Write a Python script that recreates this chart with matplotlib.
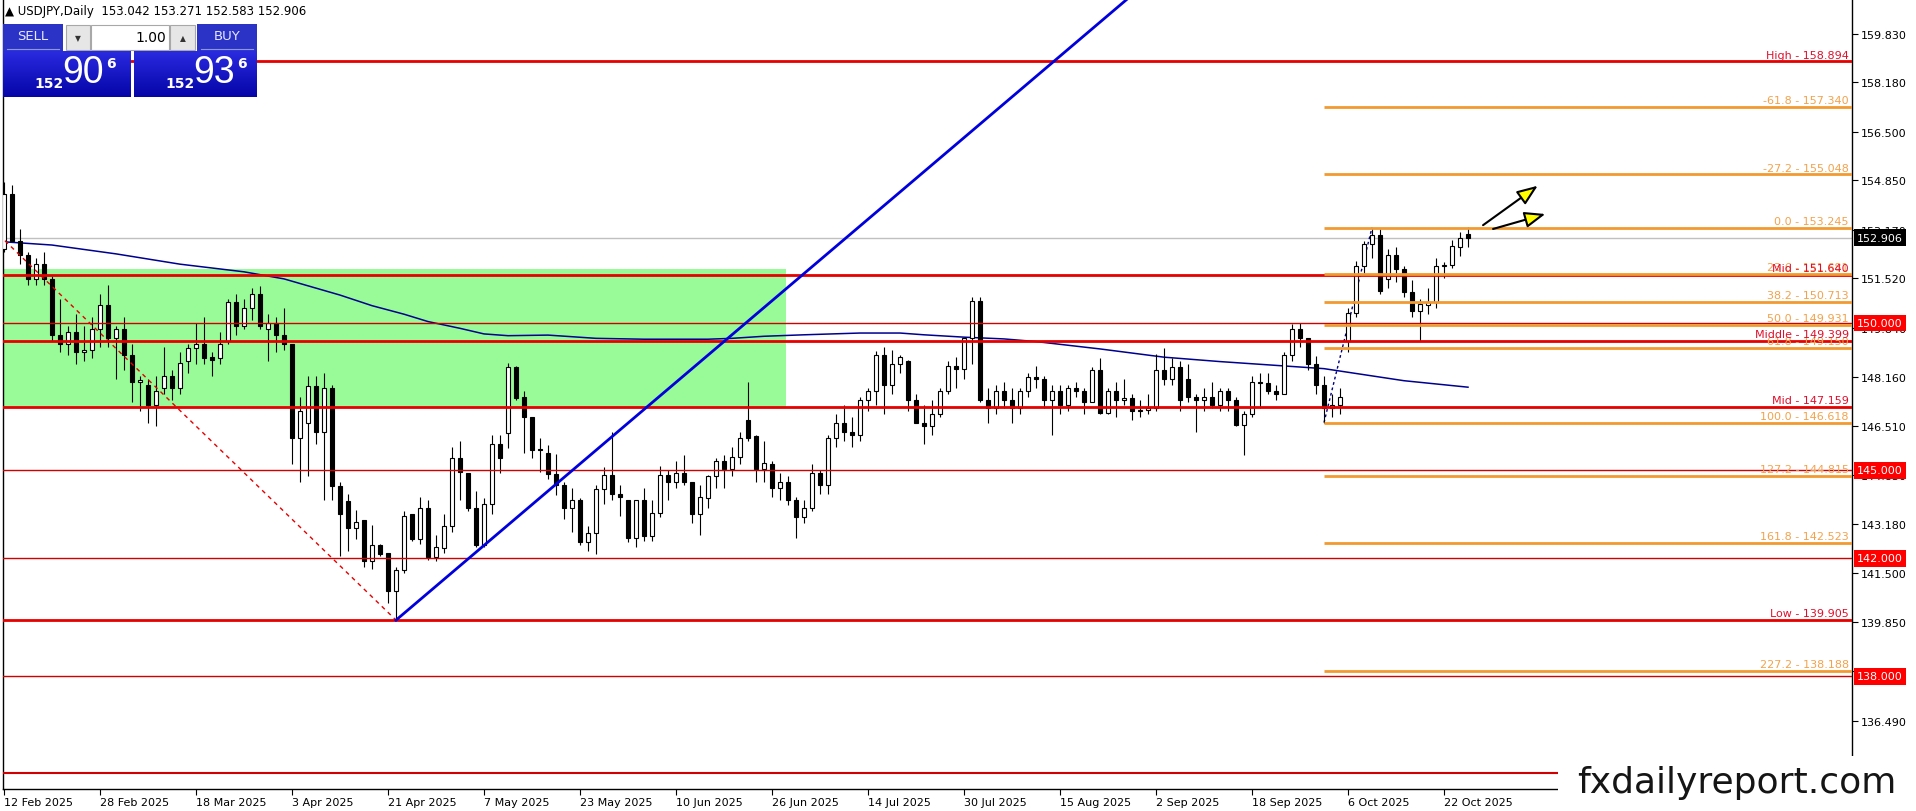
import numpy as np
import matplotlib.pyplot as plt
from matplotlib.patches import Rectangle, FancyArrowPatch
from matplotlib.colors import LinearSegmentedColormap

plt.rcParams['font.family'] = ['DejaVu Sans']

# ---------------------------------------------------------------
# USDJPY daily candles (12 Feb 2025 -> 27 Oct 2025)
# ---------------------------------------------------------------
date_labels = ['12 Feb 2025', '28 Feb 2025', '18 Mar 2025', '3 Apr 2025', '21 Apr 2025',
               '7 May 2025', '23 May 2025', '10 Jun 2025', '26 Jun 2025', '14 Jul 2025',
               '30 Jul 2025', '15 Aug 2025', '2 Sep 2025', '18 Sep 2025', '6 Oct 2025',
               '22 Oct 2025']

opens = [
    152.5, 154.4, 152.8, 152.3, 151.5, 152.0, 151.5, 149.6, 149.3, 149.7, 149.0, 149.1, 149.8,
    150.6, 149.5, 149.8, 148.9, 147.98, 147.9, 147.2, 147.8, 148.2, 147.8, 148.7, 149.15, 149.3,
    148.86, 148.8, 149.4, 150.7, 149.9, 150.5, 151.0, 149.8,
    150.0, 149.6, 149.3, 146.1, 146.6, 147.85, 146.3, 147.8, 144.45, 143.95, 143.05, 143.3,
    141.9, 142.45, 142.2, 140.9, 141.6, 143.5, 142.65, 143.7, 142.05, 142.35,
    143.1, 145.4, 144.9, 143.7, 142.45, 143.85, 145.9, 146.25, 148.5, 147.5, 146.8, 145.72,
    145.6, 144.87, 144.5, 143.7, 144.0, 142.57, 142.87, 144.35, 144.85, 144.2,
    144.0, 142.7, 144.0, 142.78, 143.55, 144.85, 144.6, 144.9, 144.6, 143.5, 144.05, 144.8,
    145.3, 145.05, 145.45, 146.7, 146.15, 145.05, 145.2, 144.4, 144.6,
    144.0, 143.4, 143.7, 144.9, 144.5, 146.1, 146.6, 146.3, 146.2, 147.4, 147.7, 148.9,
    147.9, 148.6, 148.7, 147.4, 146.6, 146.5, 146.9, 147.7, 148.55, 148.45, 149.5,
    150.75, 147.4, 147.1, 147.7, 147.4, 147.1, 147.7, 148.15, 148.1, 147.4, 147.7, 147.2,
    147.8, 147.7, 147.3, 148.4, 146.95, 147.7, 147.4, 147.45, 147.0,
    147.05, 147.1, 148.4, 148.1, 148.5, 148.1, 147.5, 147.4, 147.5, 147.2, 147.7, 147.4,
    146.55, 146.9, 148.0, 147.95, 147.7, 147.6, 148.9, 149.8, 149.5, 148.6,
    147.9, 147.1, 147.2, 149.4, 150.35, 151.95, 152.7, 153.0, 151.5, 152.3, 151.85, 151.05,
    150.42, 150.6, 150.7, 151.93, 151.96, 152.6, 153.042,
]
highs = [
    154.8, 154.7, 153.2, 152.4, 152.2, 152.4, 151.6, 150.8, 149.9, 150.3, 149.9, 150.2, 151.0,
    151.3, 149.9, 150.2, 149.3, 148.2, 148.1, 148.2, 149.2, 148.4, 149.0, 149.3, 150.0, 150.2,
    149.0, 149.7, 150.8, 151.0, 150.8, 151.2, 151.25, 150.3,
    150.2, 150.5, 149.3, 147.5, 148.2, 148.2, 148.3, 147.9, 144.6, 144.2, 143.65, 143.3,
    143.15, 142.5, 142.2, 141.7, 143.6, 143.5, 144.1, 144.0, 142.8, 143.5,
    145.8, 146.0, 144.9, 144.3, 144.05, 146.2, 146.2, 148.65, 148.55, 147.7, 146.8, 146.1,
    145.85, 145.55, 144.6, 144.4, 144.05, 143.1, 144.5, 145.1, 146.3, 144.5,
    144.0, 144.0, 144.4, 144.0, 145.15, 145.0, 145.3, 145.5, 144.6, 144.5, 144.85, 145.4,
    145.5, 145.8, 146.3, 148.0, 146.2, 146.0, 145.3, 144.9, 144.8,
    144.1, 144.0, 145.2, 145.0, 146.2, 146.9, 147.2, 146.8, 147.5, 147.8, 149.05, 149.2,
    149.1, 148.9, 148.75, 147.6, 147.2, 147.4, 147.8, 148.7, 148.85, 149.5, 150.9,
    150.9, 147.8, 147.9, 148.0, 147.8, 147.8, 148.3, 148.55, 148.2, 147.9, 147.9, 147.9,
    148.0, 147.8, 148.5, 148.8, 147.8, 148.0, 148.1, 147.6, 147.4,
    147.6, 148.95, 149.15, 148.8, 148.7, 148.6, 147.6, 147.8, 148.0, 147.8, 147.8, 147.5,
    147.0, 148.2, 148.3, 148.3, 147.9, 149.0, 149.96, 149.99, 149.5, 148.87,
    148.2, 147.6, 147.8, 150.5, 152.1, 152.8, 153.245, 153.2, 152.5, 152.6, 151.95, 151.45,
    150.8, 151.2, 152.2, 152.06, 152.83, 153.08, 153.271,
]
lows = [
    152.4, 152.8, 152.0, 151.3, 151.3, 151.3, 149.4, 149.0, 148.9, 148.6, 148.7, 148.8, 149.2,
    149.2, 148.1, 148.4, 147.3, 147.0, 146.6, 146.5, 147.6, 147.4, 147.6, 148.3, 148.6, 148.6,
    148.2, 148.6, 149.3, 149.6, 149.8, 150.1, 149.8, 148.7,
    149.0, 149.1, 145.2, 144.6, 144.8, 145.9, 144.0, 144.0, 142.1, 142.25, 142.65, 141.7,
    141.65, 142.1, 140.5, 139.905, 141.5, 142.6, 142.5, 141.95, 141.9, 142.2,
    142.9, 144.0, 143.6, 142.4, 142.4, 143.5, 144.9, 145.75, 147.4, 145.6, 145.4, 144.95,
    144.7, 144.15, 143.35, 142.9, 142.45, 142.25, 142.15, 143.85, 144.0, 143.45,
    142.55, 142.4, 142.6, 142.6, 143.4, 144.0, 144.4, 144.5, 143.2, 142.8, 143.7, 144.4,
    144.4, 144.8, 145.2, 146.0, 144.6, 144.6, 144.1, 144.0, 143.8,
    142.7, 143.2, 143.6, 144.2, 144.2, 145.8, 146.0, 145.8, 146.0, 147.0, 147.2, 146.9,
    147.6, 148.3, 147.0, 146.6, 145.9, 146.2, 146.8, 147.6, 147.8, 148.1, 148.6,
    147.3, 146.6, 146.9, 147.1, 146.6, 146.9, 147.5, 147.8, 147.1, 146.2, 146.9, 147.0,
    147.5, 146.9, 147.3, 146.9, 146.9, 146.8, 147.2, 146.7, 146.8,
    146.9, 147.0, 147.9, 147.9, 147.0, 147.3, 146.3, 147.0, 147.1, 147.0, 147.0, 146.5,
    145.5, 146.8, 147.1, 147.6, 147.4, 147.6, 148.7, 149.2, 148.4, 147.6,
    146.618, 146.8, 146.9, 149.0, 150.2, 151.7, 152.2, 151.0, 151.2, 151.4, 150.9, 150.2,
    149.4, 150.3, 150.5, 151.52, 151.86, 152.29, 152.583,
]
closes = [
    154.4, 152.8, 152.3, 151.5, 152.0, 151.5, 149.6, 149.3, 149.7, 149.0, 149.1, 149.8, 150.6,
    149.5, 149.8, 148.9, 148.0, 148.05, 147.2, 147.7, 148.2, 147.8, 148.65, 149.15, 149.3, 148.8,
    148.76, 149.3, 150.7, 149.9, 150.5, 151.0, 149.9, 150.0,
    149.6, 149.3, 146.1, 147.0, 147.85, 146.3, 147.8, 144.45, 143.5, 143.05, 143.25, 141.9,
    142.45, 142.15, 140.9, 141.6, 143.45, 142.65, 143.7, 142.05, 142.4, 143.1,
    145.4, 144.95, 143.7, 142.45, 143.85, 145.9, 145.4, 148.5, 147.45, 146.8, 145.7, 145.68,
    144.87, 144.5, 143.7, 144.0, 142.57, 142.85, 144.35, 144.85, 144.2, 144.08,
    142.7, 144.0, 142.78, 143.55, 144.85, 144.6, 144.9, 144.6, 143.5, 144.1, 144.8, 145.3,
    145.05, 145.45, 146.1, 146.1, 145.05, 145.25, 144.4, 144.6, 144.0,
    143.4, 143.7, 144.9, 144.5, 146.1, 146.6, 146.3, 146.2, 147.4, 147.7, 148.9, 147.9,
    148.6, 148.85, 147.4, 146.6, 146.5, 146.9, 147.7, 148.55, 148.45, 149.5, 150.75,
    147.4, 147.1, 147.7, 147.4, 147.1, 147.7, 148.15, 148.1, 147.4, 147.7, 147.2, 147.8,
    147.7, 147.3, 148.4, 146.95, 147.7, 147.4, 147.45, 147.0, 147.05,
    147.1, 148.4, 148.1, 148.5, 147.4, 147.5, 147.4, 147.5, 147.2, 147.7, 147.4, 146.55,
    146.9, 148.0, 147.95, 147.7, 147.6, 148.9, 149.8, 149.5, 148.6, 147.9,
    147.1, 147.2, 147.5, 150.35, 151.95, 152.7, 153.0, 151.1, 152.3, 151.85, 151.05, 150.42,
    150.65, 150.7, 151.93, 151.96, 152.61, 152.88, 152.906,
]

# moving average (read at a few bars, drawn as a polyline)
ma_idx = [0, 6, 14, 22, 30, 35, 42, 46, 50, 53, 57, 60, 63, 68, 74, 80, 88, 91, 95, 100,
          107, 112, 115, 120, 125, 129, 137, 145, 152, 165, 175, 183]
ma_val = [152.76, 152.65, 152.35, 152.0, 151.74, 151.5, 150.95, 150.59, 150.3, 150.05, 149.82,
          149.63, 149.57, 149.59, 149.48, 149.45, 149.45, 149.48, 149.55, 149.6, 149.66, 149.66,
          149.6, 149.52, 149.46, 149.37, 149.12, 148.84, 148.69, 148.45, 148.04, 147.82]

y_ticks = [136.490, 138.170, 139.850, 141.500, 143.180, 144.830, 146.510, 148.160,
           149.840, 151.520, 153.170, 154.850, 156.500, 158.180, 159.830]

red_levels = [158.894, 151.640, 149.399, 147.159, 139.905]
red_names = ['High', 'Mid', 'Middle', 'Mid', 'Low']
round_levels = [150.000, 145.000, 142.000, 138.000, 134.700]
boxed_levels = [150.000, 145.000, 142.000, 138.000]

fib_ratios = ['-61.8', '-27.2', '0.0', '23.6', '38.2', '50.0', '61.8', '100.0', '127.2', '161.8', '227.2']
fib_prices = [157.340, 155.048, 153.245, 151.681, 150.713, 149.931, 149.150, 146.618, 144.815, 142.523, 138.188]
fib_anchor_bar = 165
fib_swing = ([165, 171], [146.618, 153.245])

zone_low, zone_high, zone_end_bar = 147.159, 151.84, 97.8
trend_line = ([49, 145], [139.905, 162.07])
fall_line = ([-23, 49], [158.894, 139.905])
arrows = [((184.6, 153.27), (192.0, 154.72)), ((185.8, 153.17), (193.0, 153.73))]

last_price = 152.906
header = 'USDJPY,Daily  153.042 153.271 152.583 152.906'

# ---------------------------------------------------------------
W, H = 1916, 812
fig = plt.figure(figsize=(W / 100, H / 100), dpi=100)
fig.patch.set_facecolor('white')
ax = fig.add_axes([3 / W, 22 / H, 1849 / W, 790 / H])
ax.set_xlim(-0.125, 231)
ax.set_ylim(134.167, 161.01)

RED = '#e60000'
ORANGE = '#f29a30'
ORANGE_TXT = '#f3a24c'
RED_TXT = '#e0102c'

# green zone
ax.add_patch(Rectangle((-5, zone_low), zone_end_bar + 5, zone_high - zone_low,
                       facecolor='#98fb98', edgecolor='none', zorder=0.5))

# moving average
ax.plot(ma_idx, ma_val, color='#000090', lw=1.1, zorder=1.5)

# bid line
ax.axhline(last_price, color='#c0c0c0', lw=1, zorder=1)

# candles
x = np.arange(len(opens))
o, h, l, c = (np.array(v) for v in (opens, highs, lows, closes))
ax.vlines(x, l, h, color='black', lw=0.8, zorder=3)
body_lo = np.minimum(o, c)
body_h = np.maximum(np.abs(c - o), 0.03)
ax.bar(x, body_h, bottom=body_lo, width=0.62,
       color=np.where(c >= o, 'white', 'black'), edgecolor='black', linewidth=0.8, zorder=3.5)

# fib swing (dotted)
ax.plot(*fib_swing, color='#000080', lw=1, ls=(0, (2, 2)), zorder=2.5)

# red thick levels + thin round levels
for lv in red_levels:
    ax.axhline(lv, color=RED, lw=2, zorder=4)
for lv in round_levels:
    ax.axhline(lv, color='#d00000', lw=1.5 if lv < 135 else 1, zorder=4)

# fibonacci levels
for p in fib_prices:
    ax.plot([fib_anchor_bar, 231], [p, p], color=ORANGE, lw=2, zorder=4, solid_capstyle='butt')

# diagonal lines
ax.plot(*fall_line, color=RED, lw=1, ls=(0, (3, 3)), zorder=4)
ax.plot(*trend_line, color='#0000dd', lw=2, zorder=4.5)

# arrows
for a, b in arrows:
    ax.add_patch(FancyArrowPatch(a, b, arrowstyle='-|>,head_length=0.9,head_width=0.35',
                                 mutation_scale=14, facecolor='#ffff00', edgecolor='black',
                                 lw=1.5, zorder=6))

# level labels
yt = ax.get_yaxis_transform()
xr = 1846 / 1849
for ratio, p in zip(fib_ratios, fib_prices):
    ax.text(xr, p + 0.06, f'{ratio} - {p:.3f}', transform=yt, ha='right', va='bottom',
            fontsize=8, color=ORANGE_TXT, zorder=6)
for name, p in zip(red_names, red_levels):
    ax.text(xr, p + 0.06, f'{name} - {p:.3f}', transform=yt, ha='right', va='bottom',
            fontsize=8, color=RED_TXT, zorder=6)

# axes styling
ax.spines['top'].set_visible(False)
for side in ('left', 'right', 'bottom'):
    ax.spines[side].set_color('black')
    ax.spines[side].set_linewidth(1)
ax.yaxis.tick_right()
ax.set_yticks(y_ticks)
ax.set_yticklabels([f'{t:.3f}' for t in y_ticks])
ax.tick_params(axis='y', direction='out', length=4, pad=2, labelsize=8, colors='black')
ax.set_xticks(np.arange(0, len(opens), 12)[:len(date_labels)])
ax.set_xticklabels(date_labels)
ax.tick_params(axis='x', direction='out', length=4, pad=2, labelsize=8)
for lab in ax.get_xticklabels():
    lab.set_ha('left')

# price boxes on the scale
for lv in boxed_levels:
    ax.text(1 + 5 / 1849, lv, f'{lv:.3f}', transform=yt, ha='left', va='center', fontsize=8,
            color='white', zorder=20, clip_on=False,
            bbox=dict(boxstyle='square,pad=0.3', facecolor='#ff0000', edgecolor='none'))
ax.text(1 + 5 / 1849, last_price, f'{last_price:.3f}', transform=yt, ha='left', va='center',
        fontsize=8, color='white', zorder=20, clip_on=False,
        bbox=dict(boxstyle='square,pad=0.3', facecolor='black', edgecolor='none'))

# ---------------------------------------------------------------
# overlay: header, one-click trading panel, watermark (pixel coords)
ov = fig.add_axes([0, 0, 1, 1], zorder=10)
ov.set_xlim(0, W)
ov.set_ylim(H, 0)
ov.axis('off')

ov.text(5, 12, '\u25b2 ' + header, fontsize=8.5, ha='left', va='center', color='black')

btn = '#2b33c6'
for x0, label in ((3, 'SELL'), (197, 'BUY')):
    ov.add_patch(Rectangle((x0, 25), 60, 27, facecolor=btn, edgecolor='none'))
    ov.plot([x0 + 4, x0 + 56], [49.5, 49.5], color='#8f96ea', lw=0.8)
    ov.text(x0 + 30, 37, label, fontsize=9.5, color='#e6e8ff', ha='center', va='center')
for x0, w, sym in ((66, 24, '\u25bc'), (170, 25, '\u25b2')):
    ov.add_patch(Rectangle((x0, 26), w, 25, facecolor='#e6e6e6', edgecolor='#a8a8a8', lw=0.8))
    ov.text(x0 + w / 2, 38.5, sym, fontsize=5.5, ha='center', va='center', color='#333333')
ov.add_patch(Rectangle((91, 26), 78, 25, facecolor='white', edgecolor='#a8a8a8', lw=0.8))
ov.text(166, 38.5, '1.00', fontsize=10, ha='right', va='center', color='black')

grad = LinearSegmentedColormap.from_list('panel', ['#2a2ae0', '#0505a8'])
g = np.linspace(0, 1, 64).reshape(-1, 1)
for x0, x1, big in ((3, 131, '90'), (134, 257, '93')):
    ov.imshow(g, extent=(x0, x1, 98, 52), cmap=grad, aspect='auto', zorder=1)
    ov.text(x0 + 46, 84, '152', fontsize=10, color='white',
            ha='center', va='center', fontweight='bold', zorder=2)
    ov.text(x0 + 80, 73, big, fontsize=27, color='white', ha='center', va='center',
            family=['Liberation Sans', 'DejaVu Sans'], zorder=2)
    ov.text(x0 + 108, 64, '6', fontsize=10, color='white', ha='center', va='center',
            fontweight='bold', zorder=2)
ov.set_xlim(0, W)
ov.set_ylim(H, 0)

# watermark
ov.add_patch(Rectangle((1558, 757), W - 1558, H - 757, facecolor='white', edgecolor='none', zorder=3))
ov.text(1737, 783, 'fxdailyreport.com', fontsize=26, ha='center', va='center',
        color='#151515', zorder=4)

fig.savefig('out.png', dpi=100)
